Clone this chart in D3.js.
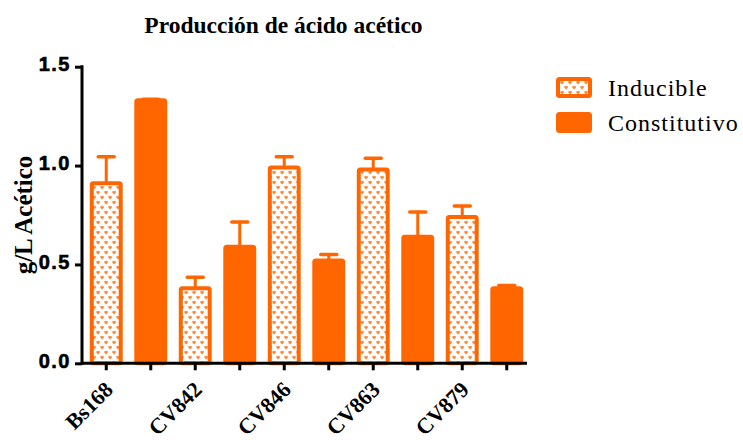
<!DOCTYPE html>
<html>
<head>
<meta charset="utf-8">
<script src="https://cdn.jsdelivr.net/npm/d3@7"></script>
<style>
  html, body { margin: 0; padding: 0; background: #fff; }
  svg { display: block; }
</style>
</head>
<body>
<svg id="chart" width="743" height="440"></svg>
<script>
// Strains on the x axis and the two promoter series
const strains = ["Bs168", "CV842", "CV846", "CV863", "CV879"];
const seriesNames = ["Inducible", "Constitutivo"];

// Acetic acid (g/L) per strain, with upper error (SEM)
const inducible = [0.91, 0.38, 0.99, 0.98, 0.74];
const inducibleErr = [0.135, 0.055, 0.055, 0.057, 0.056];
const constitutivo = [1.33, 0.59, 0.52, 0.64, 0.38];
const constitutivoErr = [0.005, 0.125, 0.03, 0.125, 0.014];

const yTicks = [0, 0.5, 1.0, 1.5];

const orange = "#ff6600";
const svg = d3.select("#chart");

// Flatten to one bar per slot: strain i inducible, then constitutive
const bars = [];
strains.forEach((s, i) => {
  bars.push({ key: s + "|I", strain: s, series: 0, value: inducible[i], err: inducibleErr[i] });
  bars.push({ key: s + "|C", strain: s, series: 1, value: constitutivo[i], err: constitutivoErr[i] });
});

const x = d3.scaleBand()
  .domain(bars.map(d => d.key))
  .range([84, 529])
  .paddingInner(0.26)
  .paddingOuter(0.13);

const y = d3.scaleLinear().domain([0, 1.5]).range([363.3, 66.7]);

// Heart-dot fill used for the inducible series
const defs = svg.append("defs");
const pat = defs.append("pattern")
  .attr("id", "dots")
  .attr("patternUnits", "userSpaceOnUse")
  .attr("width", 8).attr("height", 10);
pat.append("rect").attr("width", 8).attr("height", 10).attr("fill", "#fff");
const heart = "l1,-0.8 l0.8,0.8 l0.8,-0.8 l1,0.8 l0,0.9 l-1.8,1.9 l-1.8,-1.9 z";
pat.append("path").attr("d", "M0.3,1.6 " + heart).attr("fill", orange).attr("opacity", 0.8);
pat.append("path").attr("d", "M4.3,6.6 " + heart).attr("fill", orange).attr("opacity", 0.8);

const fillFor = d => d.series === 0 ? "url(#dots)" : orange;

// Bars
svg.append("g").selectAll("rect")
  .data(bars)
  .join("rect")
  .attr("x", d => x(d.key) + 2)
  .attr("width", x.bandwidth() - 4)
  .attr("y", d => y(d.value))
  .attr("height", d => y(0) - y(d.value))
  .attr("rx", 1.5)
  .attr("fill", fillFor)
  .attr("stroke", orange)
  .attr("stroke-width", 4);

// Upper error bars
const eb = svg.append("g")
  .attr("stroke", orange)
  .attr("stroke-linecap", "round");
eb.selectAll("line.stem")
  .data(bars)
  .join("line")
  .attr("class", "stem")
  .attr("x1", d => x(d.key) + x.bandwidth() / 2)
  .attr("x2", d => x(d.key) + x.bandwidth() / 2)
  .attr("y1", d => y(d.value))
  .attr("y2", d => y(d.value + d.err))
  .attr("stroke-width", 3);
eb.selectAll("line.cap")
  .data(bars)
  .join("line")
  .attr("class", "cap")
  .attr("x1", d => x(d.key) + x.bandwidth() / 2 - 8)
  .attr("x2", d => x(d.key) + x.bandwidth() / 2 + 8)
  .attr("y1", d => y(d.value + d.err))
  .attr("y2", d => y(d.value + d.err))
  .attr("stroke-width", 3.5);

// Y axis
const yAxis = svg.append("g")
  .attr("transform", "translate(82,0)")
  .call(d3.axisLeft(y).tickValues(yTicks).tickFormat(d3.format(".1f")).tickSize(7).tickPadding(4).tickSizeOuter(0));
yAxis.select(".domain").attr("stroke", "#000").attr("stroke-width", 3).attr("d", `M0,${y(1.5) - 1.5}V${y(0) + 1.5}`);
yAxis.selectAll(".tick line").attr("stroke", "#000").attr("stroke-width", 3);
yAxis.selectAll(".tick text")
  .attr("fill", "#000")
  .attr("font-family", "Liberation Sans, Arial, sans-serif")
  .attr("font-weight", "bold")
  .attr("font-size", 20)
  .attr("letter-spacing", 1.5)
  .attr("stroke", "#000")
  .attr("stroke-width", 0.6)
  .attr("dy", "0.2em");

// X axis: tick at every bar, label once per strain
const xAxis = svg.append("g")
  .attr("transform", `translate(0,${y(0)})`)
  .call(d3.axisBottom(x).tickSize(7).tickSizeOuter(0).tickFormat(""));
xAxis.select(".domain").attr("stroke", "#000").attr("stroke-width", 3).attr("d", "M81,0H527");
xAxis.selectAll(".tick line").attr("stroke", "#000").attr("stroke-width", 3);

svg.append("g").selectAll("text")
  .data(bars.filter(d => d.series === 0))
  .join("text")
  .attr("transform", d => `translate(${x(d.key) + x.bandwidth() / 2 + 8},391) rotate(-45)`)
  .attr("text-anchor", "end")
  .attr("font-family", "Liberation Serif, Times New Roman, serif")
  .attr("font-weight", "bold")
  .attr("font-size", 22)
  .text(d => d.strain);

// Y axis title
svg.append("text")
  .attr("transform", "translate(32,215) rotate(-90)")
  .attr("text-anchor", "middle")
  .attr("font-family", "Liberation Serif, Times New Roman, serif")
  .attr("font-weight", "bold")
  .attr("font-size", 25)
  .text("g/L Acético");

// Chart title
svg.append("text")
  .attr("x", 283.5)
  .attr("y", 33)
  .attr("text-anchor", "middle")
  .attr("font-family", "Liberation Serif, Times New Roman, serif")
  .attr("font-weight", "bold")
  .attr("font-size", 23.5)
  .text("Producción de ácido acético");

// Legend
const legend = svg.append("g");
const legY = [79, 114];
const leg = legend.selectAll("g")
  .data(seriesNames)
  .join("g");
leg.append("rect")
  .attr("x", 558)
  .attr("y", (d, i) => legY[i])
  .attr("width", 32)
  .attr("height", 17)
  .attr("rx", 1.5)
  .attr("fill", (d, i) => i === 0 ? "url(#dots)" : orange)
  .attr("stroke", orange)
  .attr("stroke-width", 4);
leg.append("text")
  .attr("x", 608)
  .attr("y", (d, i) => legY[i] + 17)
  .attr("font-family", "Liberation Serif, Times New Roman, serif")
  .attr("font-size", 24)
  .attr("letter-spacing", 1)
  .attr("fill", "#000")
  .text(d => d);
</script>
</body>
</html>
